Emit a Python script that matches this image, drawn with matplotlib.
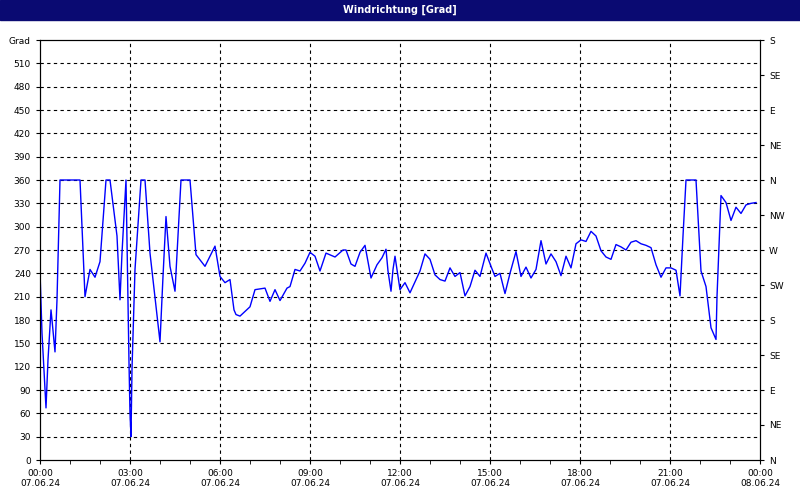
import matplotlib
matplotlib.use("Agg")
import matplotlib.pyplot as plt
import numpy as np

# pixel x positions (40 = 00:00, 30 px per hour) converted to minutes
px = [40,42,46,48,51,52,55,57,60,80,85,90,95,100,106,110,117,120,122,126,129,130,131,132,135,141,145,150,160,163,166,170,175,181,190,196,205,215,220,225,230,234,
      236,240,250,255,265,270,275,280,287,290,295,300,305,310,315,320,326,335,343,346,351,355,360,365,371,377,382,386,388,391,393,395,397,400,405,410,420,425,430,435,440,445,450,455,460,465,470,475,480,486,491,
      495,500,505,510,516,521,526,531,536,541,546,551,556,561,566,571,576,581,586,591,596,601,606,611,616,621,626,631,636,641,646,651,656,661,666,671,676,680,683,686,696,701,706,711,716,717,721,726,731,736,741,746,751,756]
values = [242,163,67,129,193,180,139,206,360,360,210,245,235,255,360,360,288,206,266,360,125,60,30,117,245,360,360,266,152,236,313,249,217,360,360,264,249,275,236,228,232,193,
          187,185,197,219,221,204,219,205,221,223,245,243,253,267,262,243,266,261,270,270,252,249,267,276,234,251,260,271,243,217,245,262,245,219,228,215,243,265,258,238,232,230,247,236,241,211,223,244,236,266,249,
          236,240,214,240,268,236,248,234,245,282,252,265,255,237,262,247,278,283,281,294,288,269,261,258,277,274,270,280,282,278,276,273,251,235,247,247,244,211,288,360,360,243,223,170,155,210,340,331,308,325,317,328,330,331]
minutes = [(p - 40) * 2 for p in px]

xtick_hours = [0, 3, 6, 9, 12, 15, 18, 21, 24]
xtick_labels = ["00:00\n07.06.24", "03:00\n07.06.24", "06:00\n07.06.24", "09:00\n07.06.24", "12:00\n07.06.24",
                "15:00\n07.06.24", "18:00\n07.06.24", "21:00\n07.06.24", "00:00\n08.06.24"]
left_ticks = list(range(0, 541, 30))
left_labels = [str(v) for v in range(0, 511, 30)] + ["Grad"]
right_ticks = list(range(0, 541, 45))
right_labels = ["N", "NE", "E", "SE", "S", "SW", "W", "NW", "N", "NE", "E", "SE", "S"]

fig = plt.figure(figsize=(8, 5), dpi=100)
fig.patch.set_facecolor("white")
# title bar
fig.patches.append(plt.Rectangle((0, 0.96), 1, 0.04, transform=fig.transFigure, color="#0a0a72", zorder=0))
fig.text(0.5, 0.98, "Windrichtung [Grad]", color="white", fontsize=7, fontweight="bold", ha="center", va="center")

ax = fig.add_axes([0.05, 0.08, 0.9, 0.84])
ax.plot(np.array(minutes) / 60.0, values, color="#0000ff", lw=1)
ax.set_xlim(0, 24)
ax.set_ylim(0, 540)
ax.set_xticks(xtick_hours)
ax.set_xticklabels(xtick_labels, fontsize=6.5)
ax.set_xticks(range(25), minor=True)
ax.set_yticks(left_ticks)
ax.set_yticklabels(left_labels, fontsize=6.5)
ax.tick_params(length=3, width=0.8)
ax.tick_params(which="minor", length=3)
for v in left_ticks[1:-1]:
    ax.axhline(v, color="black", ls=(0, (3, 3)), lw=0.8, zorder=0)
for h in xtick_hours[1:-1]:
    ax.axvline(h, color="black", ls=(0, (3, 3)), lw=0.8, zorder=0)
ax2 = ax.twinx()
ax2.set_ylim(0, 540)
ax2.set_yticks(right_ticks)
ax2.set_yticklabels(right_labels, fontsize=6.5)
ax2.tick_params(length=3, width=0.8)
for a in (ax, ax2):
    for s in a.spines.values():
        s.set_linewidth(0.8)
fig.savefig("out.png", dpi=100)
